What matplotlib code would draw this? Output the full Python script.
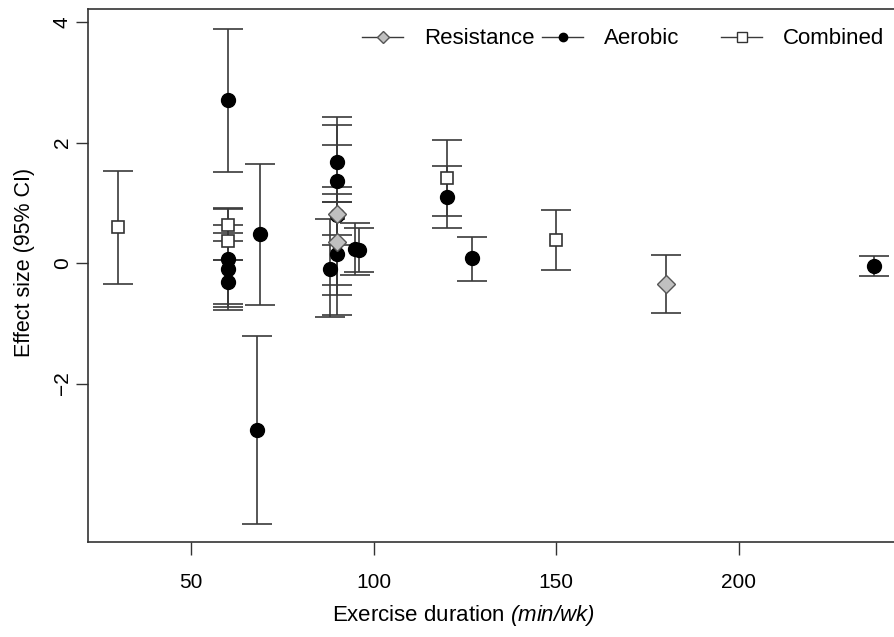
#! /usr/bin/env python3
import numpy as np
import matplotlib.pyplot as plt
from matplotlib.lines import Line2D

plt.rcParams['font.family'] = ['Liberation Sans', 'DejaVu Sans']
plt.rcParams['mathtext.fontset'] = 'custom'
plt.rcParams['mathtext.rm'] = 'Liberation Sans:italic'
plt.rcParams['mathtext.it'] = 'Liberation Sans:italic'

# Resistance training studies
res_x = [90, 90, 180]
res_y = [0.81, 0.35, -0.35]
res_lo = [0.30, -0.53, -0.83]
res_hi = [1.26, 1.15, 0.13]

# Aerobic training studies
aer_x = [60, 60, 60, 60, 69, 68, 88, 90, 90, 90, 90, 95, 96, 120, 127, 237]
aer_y = [2.71, 0.07, -0.10, -0.31, 0.49, -2.77, -0.10, 1.68, 1.36, 0.80, 0.15,
         0.23, 0.22, 1.10, 0.08, -0.04]
aer_lo = [1.52, -0.73, -0.68, -0.77, -0.69, -4.33, -0.90, 1.02, 0.47, -0.37, -0.86,
          -0.19, -0.14, 0.58, -0.29, -0.22]
aer_hi = [3.89, 0.90, 0.50, 0.05, 1.65, -1.21, 0.74, 2.42, 2.30, 1.97, 1.02,
          0.66, 0.59, 1.61, 0.43, 0.12]

# Combined training studies
com_x = [30, 60, 60, 120, 150]
com_y = [0.60, 0.64, 0.36, 1.42, 0.38]
com_lo = [-0.35, 0.37, 0.05, 0.79, -0.12]
com_hi = [1.53, 0.91, 0.64, 2.04, 0.88]

x_ticks = [50, 100, 150, 200]
y_ticks = [-2, 0, 2, 4]
groups = ['Resistance', 'Aerobic', 'Combined']

LINE = '#3a3a3a'


def draw(ax, x, y, lo, hi, **kw):
    y = np.asarray(y)
    err = [y - np.asarray(lo), np.asarray(hi) - y]
    ax.errorbar(x, y, yerr=err, fmt='none', ecolor=LINE, elinewidth=1.2,
                capsize=10.5, capthick=1.2, zorder=2)
    ax.plot(x, y, linestyle='none', zorder=3, **kw)


def main():
    fig = plt.figure(figsize=(8.94, 6.37), dpi=100)
    ax = fig.add_axes([0.0984, 0.1491, 0.905, 0.8368])

    aer_style = dict(marker='o', markersize=10, markerfacecolor='black',
                     markeredgecolor='black')
    com_style = dict(marker='s', markersize=8.5, markerfacecolor='white',
                     markeredgecolor='#333333', markeredgewidth=1.2)
    res_style = dict(marker='D', markersize=9, markerfacecolor='#c0c0c0',
                     markeredgecolor='#555555', markeredgewidth=1.0)

    draw(ax, aer_x, aer_y, aer_lo, aer_hi, **aer_style)
    draw(ax, com_x, com_y, com_lo, com_hi, **com_style)
    draw(ax, res_x, res_y, res_lo, res_hi, **res_style)

    ax.set_xlim(21.8, 243.3)
    ax.set_ylim(-4.63, 4.22)
    ax.set_xticks(x_ticks)
    ax.set_yticks(y_ticks)
    ax.set_yticklabels([str(t).replace('-', '\u2212') for t in y_ticks],
                       rotation=90, va='center')
    ax.tick_params(labelsize=15, length=9, width=1, color='#333333')
    ax.tick_params(axis='x', pad=13)
    ax.tick_params(axis='y', pad=2.5)
    ax.spines['right'].set_visible(False)
    for s in ['left', 'bottom', 'top']:
        ax.spines[s].set_color('#333333')
        ax.spines[s].set_linewidth(1.2)

    ax.set_ylabel('Effect size (95% CI)', fontsize=15.5)
    ax.yaxis.set_label_coords(-0.0655, 0.525)
    ax.set_xlabel('Exercise duration $(min/wk)$', fontsize=16)
    ax.xaxis.set_label_coords(0.4635, -0.1145)

    handles = [
        Line2D([], [], color=LINE, lw=1, marker='D', markersize=6.5,
               markerfacecolor='#c0c0c0', markeredgecolor='#555555'),
        Line2D([], [], color=LINE, lw=1, marker='o', markersize=6,
               markerfacecolor='black', markeredgecolor='black'),
        Line2D([], [], color=LINE, lw=1, marker='s', markersize=6.5,
               markerfacecolor='white', markeredgecolor='#333333'),
    ]
    # R style legend: equal column widths, so one legend per entry
    col_left = [0.3387, 0.5612, 0.7825]
    for i, (h, lab, x0) in enumerate(zip(handles, groups, col_left)):
        leg = ax.legend([h], [lab], loc='center left',
                        bbox_to_anchor=(x0, 0.9437), frameon=False,
                        fontsize=16, handlelength=1.85, handletextpad=0.95,
                        borderaxespad=0, borderpad=0)
        if i < len(groups) - 1:
            ax.add_artist(leg)

    fig.savefig('out.png', dpi=100)
    plt.close(fig)


if __name__ == "__main__":
    main()
